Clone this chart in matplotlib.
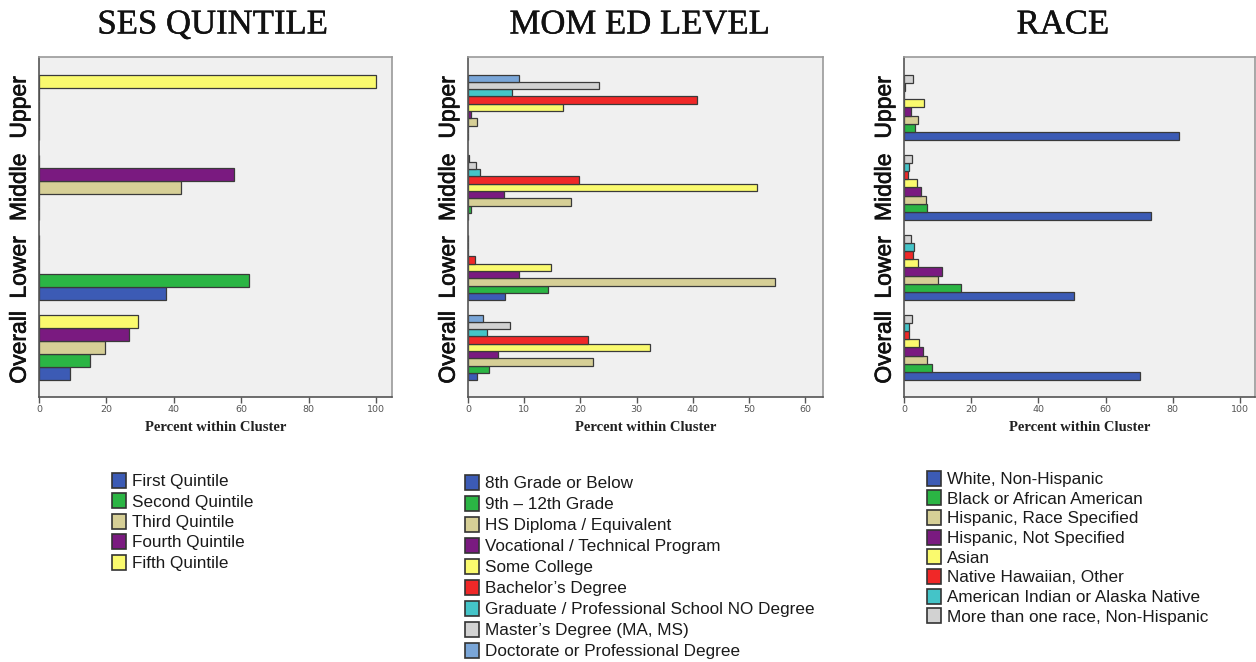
import matplotlib
matplotlib.use("Agg")
import matplotlib.pyplot as plt
import matplotlib.patheffects as pe
import numpy as np
from matplotlib.patches import Rectangle

# Cluster groups, bottom to top
clusters = ["Overall", "Lower", "Middle", "Upper"]

# SES quintile (percent within cluster), per cluster in the order above
ses_labels = ["First Quintile", "Second Quintile", "Third Quintile",
              "Fourth Quintile", "Fifth Quintile"]
ses_first = [9.3, 37.7, 0, 0]
ses_second = [15.1, 62.3, 0, 0]
ses_third = [19.7, 0, 42.2, 0]
ses_fourth = [26.6, 0, 57.8, 0]
ses_fifth = [29.3, 0, 0, 100.0]

# Mother's education level
mom_labels = ["8th Grade or Below", "9th \u2013 12th Grade", "HS Diploma / Equivalent",
              "Vocational / Technical Program", "Some College", "Bachelor\u2019s Degree",
              "Graduate / Professional School NO Degree", "Master\u2019s Degree (MA, MS)",
              "Doctorate or Professional Degree"]
mom_8th = [1.6, 6.5, 0, 0]
mom_9_12 = [3.8, 14.2, 0.6, 0]
mom_hs = [22.3, 54.7, 18.3, 1.6]
mom_voc = [5.3, 9.0, 6.4, 0.5]
mom_somecol = [32.4, 14.7, 51.5, 17.0]
mom_bach = [21.4, 1.2, 19.8, 40.8]
mom_gradno = [3.4, 0, 2.2, 7.9]
mom_masters = [7.5, 0, 1.4, 23.3]
mom_doct = [2.7, 0, 0.2, 9.1]

# Race
race_labels = ["White, Non-Hispanic", "Black or African American",
               "Hispanic, Race Specified", "Hispanic, Not Specified", "Asian",
               "Native Hawaiian, Other", "American Indian or Alaska Native",
               "More than one race, Non-Hispanic"]
race_white = [70.4, 50.6, 73.5, 81.8]
race_black = [8.2, 16.9, 6.7, 3.3]
race_hisp_rs = [6.7, 10.0, 6.5, 4.1]
race_hisp_ns = [5.6, 11.3, 5.0, 2.0]
race_asian = [4.5, 4.1, 3.8, 6.0]
race_nh = [1.5, 2.6, 1.1, 0]
race_aian = [1.5, 3.0, 1.5, 0.3]
race_multi = [2.5, 2.0, 2.3, 2.8]

BLUE = "#3c5bb5"
GREEN = "#2bb544"
TAN = "#d6cf96"
PURPLE = "#7a1a80"
YELLOW = "#fafa6e"
RED = "#f02828"
CYAN = "#44c4c8"
GRAY = "#d2d2d2"
LTBLUE = "#7aa6d8"

panels = [
    dict(title="SES QUINTILE", tx=213, labels=ses_labels,
         series=[ses_first, ses_second, ses_third, ses_fourth, ses_fifth],
         colors=[BLUE, GREEN, TAN, PURPLE, YELLOW],
         xmax=104.7, ticks=[0, 20, 40, 60, 80, 100],
         rect=[39, 57, 353, 340], leg=(112, 480), spacing=20.5),
    dict(title="MOM ED LEVEL", tx=640, labels=mom_labels,
         series=[mom_8th, mom_9_12, mom_hs, mom_voc, mom_somecol, mom_bach,
                 mom_gradno, mom_masters, mom_doct],
         colors=[BLUE, GREEN, TAN, PURPLE, YELLOW, RED, CYAN, GRAY, LTBLUE],
         xmax=63.2, ticks=[0, 10, 20, 30, 40, 50, 60],
         rect=[468, 57, 355, 340], leg=(465, 482), spacing=21.0),
    dict(title="RACE", tx=1063, labels=race_labels,
         series=[race_white, race_black, race_hisp_rs, race_hisp_ns, race_asian,
                 race_nh, race_aian, race_multi],
         colors=[BLUE, GREEN, TAN, PURPLE, YELLOW, RED, CYAN, GRAY],
         xmax=104.5, ticks=[0, 20, 40, 60, 80, 100],
         rect=[904, 57, 351, 340], leg=(927, 478), spacing=19.7),
]

W, H = 1256, 662
fig = plt.figure(figsize=(W / 100, H / 100), dpi=100)
fig.patch.set_facecolor("white")

group_width = 0.82
y = np.arange(len(clusters))
thick = [pe.withStroke(linewidth=0.5, foreground="#111111")]

for p in panels:
    x0, top, w, h = p["rect"]
    ax = fig.add_axes([x0 / W, 1 - (top + h) / H, w / W, h / H])
    ax.set_facecolor("#f0f0f0")
    n = len(p["series"])
    bh = group_width / n
    for i, (vals, col) in enumerate(zip(p["series"], p["colors"])):
        offs = -group_width / 2 + bh * (i + 0.5)
        ax.barh(y + offs, vals, height=bh, color=col, edgecolor="#3a3a3a",
                linewidth=0.9)
    ax.set_xlim(0, p["xmax"])
    ax.set_ylim(-0.62, 3.63)
    ax.set_yticks(y)
    ax.set_yticklabels(clusters, rotation=90, va="center", fontsize=16.5,
                       family="Liberation Sans", color="#111111")
    for t in ax.get_yticklabels():
        t.set_path_effects(thick)
    ax.tick_params(axis="y", length=0, pad=6)
    ax.set_xticks(p["ticks"])
    ax.set_xticklabels([str(t) for t in p["ticks"]], fontsize=6.8, color="#555555")
    ax.tick_params(axis="x", length=4, width=1, color="#555555", pad=2)
    for s in ["top", "right"]:
        ax.spines[s].set_color("#9a9a9a")
        ax.spines[s].set_linewidth(1.2)
    for s in ["left", "bottom"]:
        ax.spines[s].set_color("#555555")
        ax.spines[s].set_linewidth(1.2)
    ax.set_xlabel("Percent within Cluster", family="Liberation Serif",
                  fontweight="bold", fontsize=10.5, labelpad=5, color="#222222")
    # Panel title
    fig.text(p["tx"] / W, 1 - 25 / H, p["title"], ha="center", va="center",
             family="Liberation Serif", fontsize=25, color="#111111",
             path_effects=[pe.withStroke(linewidth=0.3, foreground="#111111")])

    # Legend: swatch plus label, one row per series
    lx, ly = p["leg"]
    for k, (lab, col) in enumerate(zip(p["labels"], p["colors"])):
        cy = ly + k * p["spacing"]
        fig.patches.append(Rectangle(((lx) / W, 1 - (cy + 7.5) / H), 14 / W, 15 / H,
                                     transform=fig.transFigure, facecolor=col,
                                     edgecolor="#333333", linewidth=1.2))
        fig.text((lx + 20) / W, 1 - cy / H, lab, ha="left", va="center_baseline",
                 family="Liberation Sans", fontsize=12.3, color="#1a1a1a")

fig.savefig("out.png", dpi=100, facecolor="white")
